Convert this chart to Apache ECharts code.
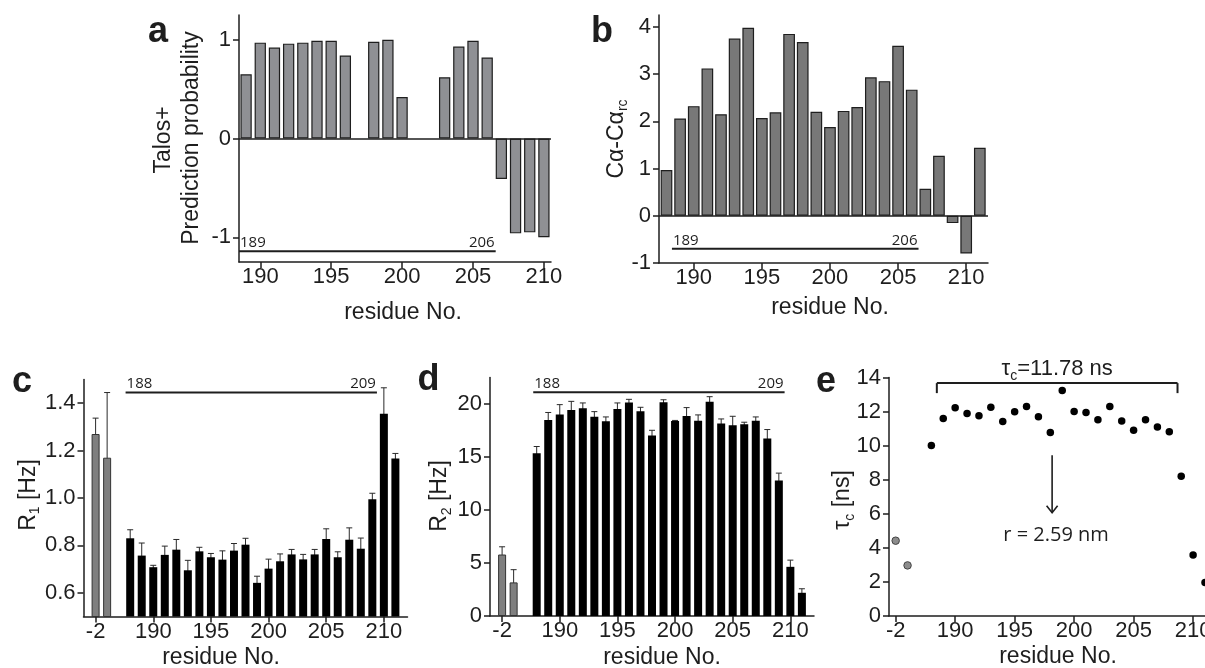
<!DOCTYPE html>
<html>
<head>
<meta charset="utf-8">
<script src="https://cdn.jsdelivr.net/npm/echarts@6/dist/echarts.min.js"></script>
<style>
  html, body { margin: 0; padding: 0; background: #fff; }
  #main { width: 1205px; height: 668px; }
</style>
</head>
<body>
<div id="main"></div>
<script>
// ---- data -------------------------------------------------------------
// (a) TALOS+ helix prediction probability (null = no prediction)
const talosResidues = [189,190,191,192,193,194,195,196,197,198,199,200,201,202,203,204,205,206,207,208,209,210];
const talosValues   = [0.65,0.97,0.92,0.96,0.97,0.99,0.99,0.84,null,0.98,1.00,0.42,null,null,0.62,0.93,0.99,0.82,-0.41,-0.96,-0.95,-1.00];

// (b) secondary C-alpha chemical shift
const cshiftResidues = [188,189,190,191,192,193,194,195,196,197,198,199,200,201,202,203,204,205,206,207,208,209,210,211];
const cshiftValues   = [0.97,2.06,2.32,3.12,2.15,3.75,3.98,2.07,2.19,3.85,3.68,2.20,1.88,2.22,2.30,2.93,2.85,3.60,2.67,0.57,1.27,-0.155,-0.80,1.44];

// (c-e) relaxation data; -2 and -1 are tag residues (drawn grey)
const relaxResidues = [-2,-1,188,189,190,191,192,193,194,195,196,197,198,199,200,201,202,203,204,205,206,207,208,209,210,211];
const r1Values = [1.27,1.17,0.83,0.757,0.708,0.76,0.782,0.695,0.775,0.75,0.74,0.778,0.803,0.642,0.702,0.733,0.762,0.741,0.762,0.827,0.75,0.824,0.786,0.995,1.355,1.167];
const r1Errors = [0.067,0.275,0.036,0.053,0.008,0.037,0.043,0.042,0.017,0.016,0.037,0.03,0.027,0.028,0.04,0.031,0.021,0.021,0.021,0.043,0.023,0.05,0.045,0.025,0.11,0.021];
const r2Values = [5.8,3.17,15.36,18.5,19.0,19.44,19.6,18.8,18.37,19.53,20.13,19.31,17.02,20.16,18.4,18.87,18.43,20.22,18.15,17.99,18.09,18.43,16.74,12.79,4.64,2.19];
const r2Errors = [0.73,1.2,0.63,0.7,0.94,0.81,0.5,0.48,0.41,0.57,0.31,0.38,0.5,0.24,0.05,0.79,0.54,0.47,0.44,0.85,0.19,0.35,0.85,0.69,0.63,0.38];
const tauValues = [4.42,2.97,10.01,11.6,12.22,11.89,11.75,12.26,11.42,11.99,12.3,11.69,10.77,13.24,12.0,11.95,11.52,12.3,11.44,10.91,11.52,11.09,10.81,8.21,3.58,1.97];
const tagResidues = [-2, -1];

// tick labels
const residueTicksAB = [190,195,200,205,210];
const residueTicksCDE = [-2,190,195,200,205,210];
const talosTicks = [-1,0,1];
const cshiftTicks = [-1,0,1,2,3,4];
const r1Ticks = [0.6,0.8,1.0,1.2,1.4];
const r2Ticks = [0,5,10,15,20];
const tauTicks = [0,2,4,6,8,10,12,14];

// helix spans marked in each panel
const helixTalos  = { first: 189, last: 206, level: -1.14 };
const helixCshift = { first: 189, last: 206, level: -0.70 };
const helixR1     = { first: 188, last: 209, level: 1.445 };
const helixR2     = { first: 188, last: 209, level: 21.1 };
const tauFit      = { first: 188, last: 209, level: 13.67, text: 11.78 };
const radius      = { residue: 198.15, from: 9.44, to: 6.06, labelLevel: 4.75, value: 2.59 };

// ---- helpers -----------------------------------------------------------
const FONT = "'Liberation Sans', Arial, Helvetica, sans-serif";
const NUMFONT = "'Open Sans', 'DejaVu Sans', sans-serif";
const INK = '#1e1e1e';

// residues of panels c-e sit on a compressed axis: the two tag residues,
// one empty slot, then 188 onwards
function pos(r) { return r < 0 ? r + 2 : r - 185; }
const posLabel = {};
residueTicksCDE.forEach(r => { posLabel[pos(r)] = String(r); });

const axisLine = { show: true, onZero: false, lineStyle: { color: INK, width: 1.5 } };
function xAxis(grid, min, max, ticks, formatter) {
  return {
    gridIndex: grid, type: 'value', min, max,
    axisLine, splitLine: { show: false },
    axisTick: { show: true, length: 6, customValues: ticks, lineStyle: { color: INK, width: 1.5 } },
    axisLabel: { customValues: ticks, margin: 4, color: INK, fontFamily: FONT, fontSize: 22,
                 formatter: formatter || (v => String(v)) }
  };
}
function yAxis(grid, min, max, ticks, formatter) {
  return {
    gridIndex: grid, type: 'value', min, max,
    axisLine, splitLine: { show: false },
    axisTick: { show: true, length: 6, customValues: ticks, lineStyle: { color: INK, width: 1.5 } },
    axisLabel: { customValues: ticks, margin: 8, color: INK, fontFamily: FONT, fontSize: 22,
                 formatter: formatter || (v => String(v)) }
  };
}

function errRender(params, api) {
  const x = api.value(0), y = api.value(1), e = api.value(2);
  const top = api.coord([x, y + e]);
  const bot = api.coord([x, y - e]);
  const st = { stroke: '#2a2a2a', lineWidth: 1 };
  return { type: 'group', children: [
    { type: 'line', shape: { x1: top[0], y1: top[1], x2: bot[0], y2: bot[1] }, style: st },
    { type: 'line', shape: { x1: top[0] - 3, y1: top[1], x2: top[0] + 3, y2: top[1] }, style: st },
    { type: 'line', shape: { x1: bot[0] - 3, y1: bot[1], x2: bot[0] + 3, y2: bot[1] }, style: st }
  ]};
}

function spanSeries(idx, span, from, to) {
  return {
    type: 'custom', xAxisIndex: idx, yAxisIndex: idx, silent: true, z: 5,
    data: [[from, to, span.level]],
    renderItem: (params, api) => {
      const p1 = api.coord([api.value(0), api.value(2)]);
      const p2 = api.coord([api.value(1), api.value(2)]);
      const ts = { fill: INK, font: "15px " + NUMFONT, verticalAlign: 'bottom' };
      return { type: 'group', children: [
        { type: 'line', shape: { x1: p1[0], y1: p1[1], x2: p2[0], y2: p2[1] }, style: { stroke: INK, lineWidth: 2 } },
        { type: 'text', x: p1[0] + 1, y: p1[1] - 1, style: Object.assign({ text: String(span.first), align: 'left' }, ts) },
        { type: 'text', x: p2[0] - 1, y: p2[1] - 1, style: Object.assign({ text: String(span.last), align: 'right' }, ts) }
      ]};
    }
  };
}

const greyBar  = { color: '#7f7f7f', borderColor: '#333', borderWidth: 1 };
const blackBar = { color: '#000', borderWidth: 0 };
function relaxBars(values) {
  return relaxResidues.map((r, i) => ({
    value: [pos(r), values[i]],
    itemStyle: tagResidues.includes(r) ? greyBar : blackBar
  }));
}
function relaxErr(values, errors) {
  return relaxResidues.map((r, i) => [pos(r), values[i], errors[i]]);
}
const zeroLine = {
  silent: true, symbol: ['none', 'none'], label: { show: false },
  lineStyle: { color: INK, width: 1.5, type: 'solid' }, data: [{ yAxis: 0 }]
};

// ---- chart -------------------------------------------------------------
const chart = echarts.init(document.getElementById('main'), null, { renderer: 'canvas' });

const textBase = { fill: INK, fontFamily: FONT, fontSize: 22, align: 'center', verticalAlign: 'middle' };
function label(x, y, text, extra, rotate) {
  return { type: 'text', x, y, rotation: rotate ? Math.PI / 2 : 0, silent: true,
           style: Object.assign({}, textBase, { text }, extra || {}) };
}
// subscript token: smaller and pushed below the baseline
const sub = { s: { fontFamily: FONT, fontSize: 14, verticalAlign: 'bottom', padding: [14, 0, 0, 0] } };
const letter = { fontWeight: 'bold', fontSize: 36 };
const title = { fontSize: 23 };

chart.setOption({
  animation: false,
  backgroundColor: '#fff',
  grid: [
    { left: 239, top: 15, width: 312, height: 247, outerBoundsMode: 'none' },
    { left: 659, top: 15, width: 329, height: 248, outerBoundsMode: 'none' },
    { left: 83.5, top: 379.5, width: 324, height: 237, outerBoundsMode: 'none' },
    { left: 490, top: 377.5, width: 324, height: 238.5, outerBoundsMode: 'none' },
    { left: 889, top: 377.5, width: 316, height: 238.5, outerBoundsMode: 'none' }
  ],
  xAxis: [
    xAxis(0, 188.5, 210.5, residueTicksAB),
    xAxis(1, 187.45, 211.6, residueTicksAB),
    xAxis(2, -1.05, 27.05, residueTicksCDE.map(pos), v => posLabel[v]),
    xAxis(3, -1.05, 27.05, residueTicksCDE.map(pos), v => posLabel[v]),
    xAxis(4, -0.56, 26.0, residueTicksCDE.map(pos), v => posLabel[v])
  ],
  yAxis: [
    yAxis(0, -1.25, 1.25, talosTicks),
    yAxis(1, -1, 4.25, cshiftTicks),
    yAxis(2, 0.5, 1.5, r1Ticks, v => v.toFixed(1)),
    yAxis(3, 0, 22.5, r2Ticks),
    yAxis(4, 0, 14, tauTicks)
  ],
  series: [
    // (a)
    {
      type: 'bar', xAxisIndex: 0, yAxisIndex: 0, barWidth: 11.3,
      data: talosResidues.map((r, i) => [r, talosValues[i]]).filter(d => d[1] !== null),
      itemStyle: { color: '#8f9094', borderColor: INK, borderWidth: 1.2 },
      markLine: zeroLine
    },
    spanSeries(0, helixTalos, helixTalos.first - 0.5, helixTalos.last + 0.6),
    // (b)
    {
      type: 'bar', xAxisIndex: 1, yAxisIndex: 1, barWidth: 11.7,
      data: cshiftResidues.map((r, i) => [r, cshiftValues[i]]),
      itemStyle: { color: '#787878', borderColor: INK, borderWidth: 1.2 },
      markLine: zeroLine
    },
    spanSeries(1, helixCshift, helixCshift.first - 0.6, helixCshift.last + 0.5),
    // (c)
    { type: 'bar', xAxisIndex: 2, yAxisIndex: 2, barWidth: 8, data: relaxBars(r1Values) },
    { type: 'custom', xAxisIndex: 2, yAxisIndex: 2, silent: true, renderItem: errRender, data: relaxErr(r1Values, r1Errors) },
    spanSeries(2, helixR1, pos(helixR1.first) - 0.4, pos(helixR1.last) + 0.4),
    // (d)
    { type: 'bar', xAxisIndex: 3, yAxisIndex: 3, barWidth: 8, data: relaxBars(r2Values) },
    { type: 'custom', xAxisIndex: 3, yAxisIndex: 3, silent: true, renderItem: errRender, data: relaxErr(r2Values, r2Errors) },
    spanSeries(3, helixR2, pos(helixR2.first) - 0.3, pos(helixR2.last) + 0.5),
    // (e)
    {
      type: 'scatter', xAxisIndex: 4, yAxisIndex: 4, symbolSize: 7.5, clip: false,
      data: relaxResidues.map((r, i) => ({
        value: [pos(r), tauValues[i]],
        itemStyle: tagResidues.includes(r)
          ? { color: '#8c8c8c', borderColor: '#444', borderWidth: 1, opacity: 1 }
          : { color: '#000', opacity: 1 }
      }))
    },
    {
      // bracket over the residues used for the global tau_c fit
      type: 'custom', xAxisIndex: 4, yAxisIndex: 4, silent: true,
      data: [[pos(tauFit.first) + 0.46, pos(tauFit.last) - 0.31, tauFit.level]],
      renderItem: (params, api) => {
        const p1 = api.coord([api.value(0), api.value(2)]);
        const p2 = api.coord([api.value(1), api.value(2)]);
        const st = { stroke: INK, lineWidth: 2 };
        return { type: 'group', children: [
          { type: 'line', shape: { x1: p1[0], y1: p1[1], x2: p2[0], y2: p2[1] }, style: st },
          { type: 'line', shape: { x1: p1[0], y1: p1[1], x2: p1[0], y2: p1[1] + 10 }, style: st },
          { type: 'line', shape: { x1: p2[0], y1: p2[1], x2: p2[0], y2: p2[1] + 10 }, style: st },
          { type: 'text', x: (p1[0] + p2[0]) / 2, y: p1[1] - 14,
            style: { text: 'τ{s|c}=' + tauFit.text.toFixed(2) + ' ns', fill: INK, fontFamily: FONT, fontSize: 22,
                     align: 'center', verticalAlign: 'middle', rich: sub } }
        ]};
      }
    },
    {
      // arrow towards the hydrodynamic radius
      type: 'custom', xAxisIndex: 4, yAxisIndex: 4, silent: true,
      data: [[pos(radius.residue), radius.from, radius.to, radius.labelLevel]],
      renderItem: (params, api) => {
        const a = api.coord([api.value(0), api.value(1)]);
        const b = api.coord([api.value(0), api.value(2)]);
        const t = api.coord([api.value(0), api.value(3)]);
        const st = { stroke: INK, lineWidth: 1.6, fill: 'none' };
        return { type: 'group', children: [
          { type: 'line', shape: { x1: a[0], y1: a[1], x2: b[0], y2: b[1] }, style: st },
          { type: 'polyline', shape: { points: [[b[0] - 5.5, b[1] - 7], [b[0], b[1]], [b[0] + 5.5, b[1] - 7]] }, style: st },
          { type: 'text', x: t[0] + 4, y: t[1],
            style: { text: 'r = ' + radius.value.toFixed(2) + ' nm', fill: INK, font: "20px " + NUMFONT,
                     align: 'center', verticalAlign: 'middle' } }
        ]};
      }
    }
  ],
  graphic: [
    // panel letters
    label(158, 32, 'a', letter),
    label(602, 32.5, 'b', letter),
    label(22, 382, 'c', letter),
    label(428.5, 380, 'd', letter),
    label(826, 382, 'e', letter),
    // axis titles
    label(403, 313, 'residue No.', title),
    label(830, 307.5, 'residue No.', title),
    label(221, 658, 'residue No.', title),
    label(662, 658, 'residue No.', title),
    label(1058, 656.5, 'residue No.', title),
    label(163.5, 140, 'Talos+', title, true),
    label(192, 138, 'Prediction probability', title, true),
    label(616.5, 139, 'Cα-Cα{s|rc}', Object.assign({ rich: sub }, title), true),
    label(28.5, 495, 'R{s|1} [Hz]', Object.assign({ rich: sub }, title), true),
    label(440, 496, 'R{s|2} [Hz]', Object.assign({ rich: sub }, title), true),
    label(843, 500, 'τ{s|c} [ns]', Object.assign({ rich: sub }, title), true)
  ]
});
</script>
</body>
</html>
